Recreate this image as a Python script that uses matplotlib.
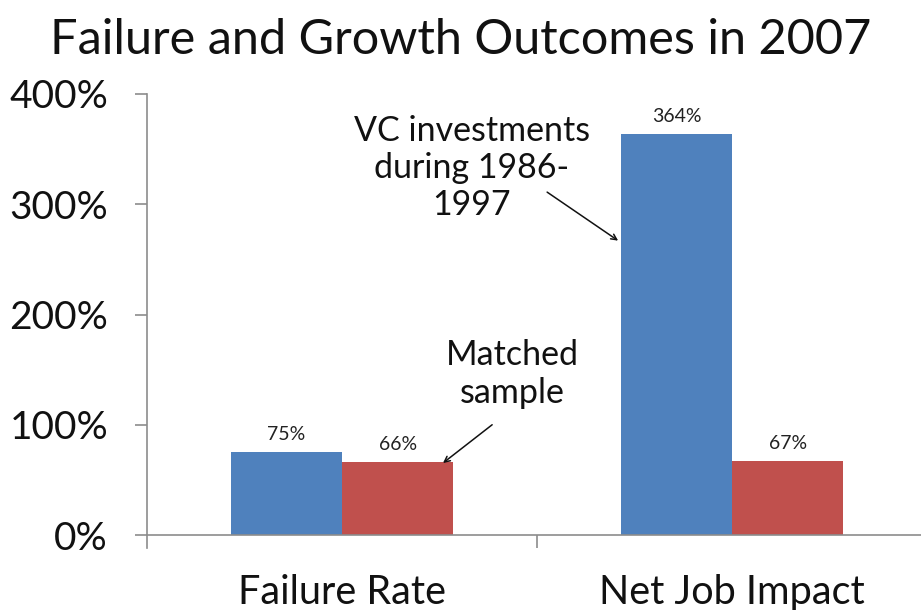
import matplotlib
matplotlib.use("Agg")
import matplotlib.pyplot as plt
import numpy as np

categories = ["Failure Rate", "Net Job Impact"]
vc_values = [75, 364]
matched_values = [66, 67]
yticks = [0, 100, 200, 300, 400]
title = "Failure and Growth Outcomes in 2007"

plt.rcParams['font.family'] = ['Lato', 'DejaVu Sans']

fig = plt.figure(figsize=(9.21, 6.10), dpi=100)
ax = fig.add_axes([147/921, 1-535/610, (921-147)/921, (535-94)/610])

x = np.arange(len(categories))
w = 0.285
blue = "#4F81BD"
red = "#C0504D"
b1 = ax.bar(x - w/2, vc_values, w, color=blue)
b2 = ax.bar(x + w/2, matched_values, w, color=red)

for rects, vals in ((b1, vc_values), (b2, matched_values)):
    for r, v in zip(rects, vals):
        ax.text(r.get_x() + r.get_width()/2, v + 8, f"{v}%", ha="center", va="bottom",
                fontsize=14, color="#222222")

ax.set_xlim(-0.5, 1.5 - 6/390)
ax.set_ylim(0, 400)
ax.set_yticks(yticks)
ax.set_yticklabels([f"{t}%" for t in yticks], fontsize=28, color="#111111")
ax.set_xticks([0.5])
ax.set_xticklabels([""])
ax.tick_params(axis='y', length=9, width=1.2, color="#8c8c8c", pad=19)
ax.tick_params(axis='x', length=9, width=1.2, color="#8c8c8c")
for i, c in enumerate(categories):
    ax.text(i, -52, c, ha="center", va="center", fontsize=28.5, color="#111111")

for s in ["top", "right"]:
    ax.spines[s].set_visible(False)
ax.spines["left"].set_color("#8c8c8c")
ax.spines["bottom"].set_color("#8c8c8c")
ax.spines["left"].set_linewidth(1.2)
ax.spines["bottom"].set_linewidth(1.2)
ax.spines["left"].set_bounds(-12, 400)

fig.text(0.5, 1-40/610, title, ha="center", va="center", fontsize=35, color="#111111")

ax.text(0.333, 333, "VC investments\nduring 1986-\n1997", ha="center", va="center",
        fontsize=24.5, linespacing=1.2, color="#111111")
ax.annotate("", xy=(0.708, 267), xytext=(0.526, 311),
            arrowprops=dict(arrowstyle="->", color="#111111", lw=1.1,
                            shrinkA=0, shrinkB=0), annotation_clip=False)
ax.text(0.436, 146, "Matched\nsample", ha="center", va="center",
        fontsize=24.5, linespacing=1.2, color="#111111")
ax.annotate("", xy=(0.259, 65.3), xytext=(0.385, 100),
            arrowprops=dict(arrowstyle="->", color="#111111", lw=1.1,
                            shrinkA=0, shrinkB=0), annotation_clip=False)

fig.savefig("out.png", dpi=100)
